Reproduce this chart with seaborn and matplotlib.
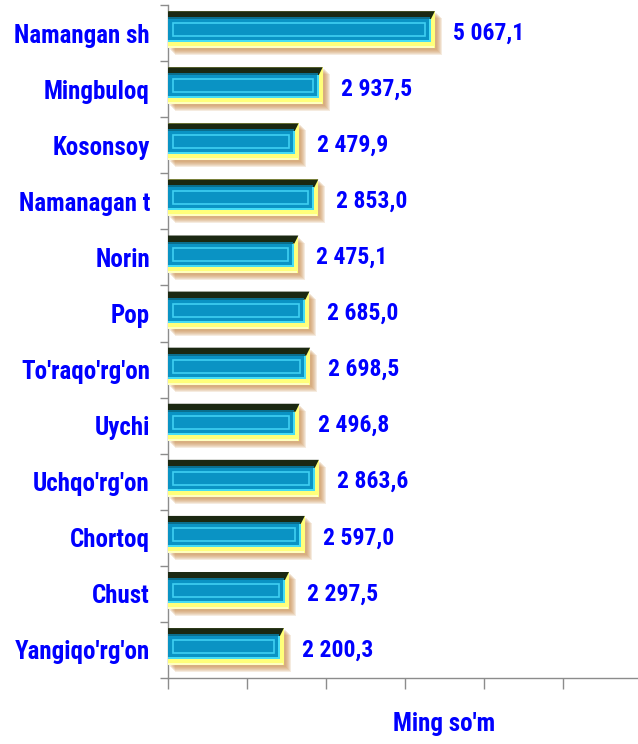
import matplotlib
matplotlib.use("Agg")
import matplotlib.pyplot as plt
import seaborn as sns
import pandas as pd
from matplotlib.patches import Rectangle, Polygon

# Data
districts = [
    "Namangan sh",
    "Mingbuloq",
    "Kosonsoy",
    "Namanagan t",
    "Norin",
    "Pop",
    "To'raqo'rg'on",
    "Uychi",
    "Uchqo'rg'on",
    "Chortoq",
    "Chust",
    "Yangiqo'rg'on",
]
values = [5067.1, 2937.5, 2479.9, 2853.0, 2475.1, 2685.0, 2698.5, 2496.8, 2863.6, 2597.0, 2297.5, 2200.3]
x_ticks = [0, 1500, 3000, 4500, 6000, 7500, 9000]
x_label = "Ming so'm"

sns.set_style("white")
plt.rcParams["font.family"] = ["Roboto Condensed", "DejaVu Sans"]

BLUE = "#0000ff"
GRAY = "#8c8c8c"
FS = 18


def fmt(v):
    return f"{v:,.1f}".replace(",", " ").replace(".", ",")


fig = plt.figure(figsize=(6.38, 7.44), dpi=100)
# axes runs past the right edge, the reference is cropped there
ax = fig.add_axes([168 / 638, 66 / 744, 553 / 638, 673 / 744])

df = pd.DataFrame({"district": districts, "value": values})
sns.barplot(
    data=df, x="value", y="district", orient="h", color="#ffff7a",
    width=0.66, saturation=1, ax=ax, zorder=3, linewidth=0,
)
ax.set_xlim(0, 10500)
ax.set_ylim(len(districts) - 0.5, -0.5)

# data units per pixel
px = 10500 / 553
py = len(districts) / 673

# 3D bevel look built on top of each seaborn bar
for p in list(ax.patches):
    p.set_y(p.get_y() - 0.06)
    x0, y0, w, h = p.get_x(), p.get_y(), p.get_width(), p.get_height()
    top = 8 * py
    bot = 6 * py
    rgt = 4 * px
    # soft shadow
    for k in range(1, 7):
        ax.add_patch(Rectangle((x0 + (1 + k) * px, y0 + (1 + k) * py), w, h,
                               color="#c98a45", alpha=0.17, zorder=2, lw=0))
    # pale top of the yellow rim
    ax.add_patch(Rectangle((x0, y0 + h - 2 * py), w - 1 * px, 2 * py,
                           color="#ffffc0", zorder=3.5, lw=0))
    # dark top edge
    ax.add_patch(Polygon([(x0, y0), (x0 + w, y0), (x0 + w - rgt, y0 + top), (x0, y0 + top)],
                         closed=True, color="#1b2812", zorder=4, lw=0))
    ax.add_patch(Rectangle((x0, y0 + top - 2 * py), w - rgt - 1 * px, 2 * py,
                           color="#0a6f8e", zorder=4, lw=0))
    # light bevel of body
    ax.add_patch(Rectangle((x0, y0 + top), w - rgt, h - top - bot,
                           color="#45dcf5", zorder=4, lw=0))
    ax.add_patch(Rectangle((x0, y0 + top), w - rgt - 2 * px, h - top - bot - 2 * py,
                           color="#0a93c4", zorder=4, lw=0))
    # inner outline
    ax.add_patch(Rectangle((x0 + 5 * px, y0 + top + 4 * py), w - rgt - 11 * px, h - top - bot - 10 * py,
                           fill=False, edgecolor="#3fd0f2", lw=1.2, zorder=5))

for i, v in enumerate(values):
    ax.annotate(fmt(v), xy=(v, i), xytext=(13, 0), textcoords="offset points",
                va="center", ha="left", color=BLUE, fontsize=17, fontweight="bold")

sns.despine(ax=ax, top=True, right=True)
for s in ["left", "bottom"]:
    ax.spines[s].set_color(GRAY)
    ax.spines[s].set_linewidth(1)

ax.set_xticks(x_ticks)
ax.set_xticklabels([])
ax.tick_params(axis="x", direction="out", length=8, color=GRAY, width=1, bottom=True)
ax.set_yticks(range(len(districts)))
ax.set_yticklabels(districts, color=BLUE, fontsize=FS, fontweight="bold")
ax.tick_params(axis="y", which="major", length=0, pad=13)
ax.set_yticks([i + 0.5 for i in range(-1, len(districts))], minor=True)
ax.tick_params(axis="y", which="minor", direction="out", length=6, color=GRAY, width=1, left=True)

ax.set_ylabel("")
ax.set_xlabel(x_label, color=BLUE, fontsize=FS, fontweight="bold", labelpad=13)

fig.savefig("out.png", dpi=100)
